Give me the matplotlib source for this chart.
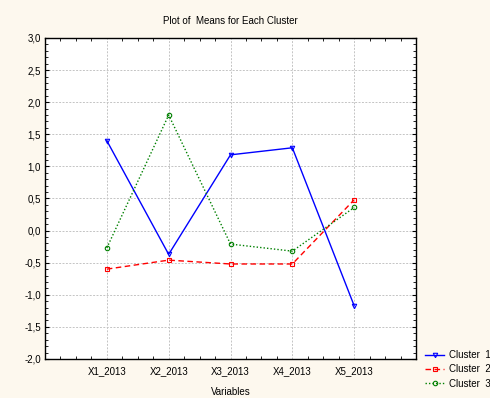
import matplotlib
matplotlib.use("Agg")
import matplotlib.pyplot as plt
from matplotlib.ticker import MultipleLocator, FuncFormatter

variables = ["X1_2013", "X2_2013", "X3_2013", "X4_2013", "X5_2013"]
cluster1 = [1.40, -0.37, 1.18, 1.29, -1.17]
cluster2 = [-0.60, -0.46, -0.52, -0.52, 0.48]
cluster3 = [-0.27, 1.80, -0.21, -0.32, 0.36]
series_names = ["Cluster  1", "Cluster  2", "Cluster  3"]

plt.rcParams['font.family'] = ['Liberation Sans', 'DejaVu Sans']

fig = plt.figure(figsize=(4.9, 3.98), dpi=100, facecolor="#fdf8ee")
ax = fig.add_axes([45/490, 1-359/398, (416-45)/490, (359-38)/398])
ax.set_facecolor("white")

x = list(range(1, len(variables) + 1))
ax.plot(x, cluster1, color="#0000ff", lw=1.0, ls="-", marker="v",
        ms=3.2, mfc="none", mec="#0000ff", mew=0.8, label=series_names[0])
ax.plot(x, cluster2, color="#ff0000", lw=1.0, ls=(0, (4, 2.5)), marker="s",
        ms=3.2, mfc="none", mec="#ff0000", mew=0.8, label=series_names[1])
ax.plot(x, cluster3, color="#008000", lw=1.0, ls=(0, (1, 1.5)), marker="o",
        ms=3.2, mfc="none", mec="#008000", mew=0.8, label=series_names[2])

ax.set_xlim(0, 6)
ax.set_ylim(-2.0, 3.0)
ax.set_xticks(x)
ax.set_xticklabels(variables, fontsize=7)
ax.xaxis.set_minor_locator(MultipleLocator(0.25))
ax.yaxis.set_major_locator(MultipleLocator(0.5))
ax.yaxis.set_minor_locator(MultipleLocator(0.1))
ax.yaxis.set_major_formatter(FuncFormatter(lambda v, p: f"{v:.1f}".replace(".", ",").replace("-0,0", "0,0")))
ax.tick_params(axis="both", which="both", direction="in", top=True, right=True, labelsize=7, pad=3)
ax.tick_params(which="major", length=3, width=0.8)
ax.tick_params(which="minor", length=2, width=0.6)
ax.tick_params(axis="x", which="major", length=0, pad=5)
for s in ax.spines.values():
    s.set_linewidth(1.0)
    s.set_color("black")

ax.grid(True, which="major", color="#c4c4c4", ls=(0, (2, 1.5)), lw=0.7)
ax.set_axisbelow(True)

ax.set_title("Plot of  Means for Each Cluster", fontsize=7, pad=10)
ax.set_xlabel("Variables", fontsize=7, labelpad=8)

leg = fig.legend(loc="upper left", bbox_to_anchor=(425/490, 1-350/398), frameon=False,
                 fontsize=7, handlelength=2.0, handletextpad=0.5, labelspacing=0.45,
                 borderaxespad=0, borderpad=0)

fig.savefig("out.png", dpi=100, facecolor=fig.get_facecolor())
